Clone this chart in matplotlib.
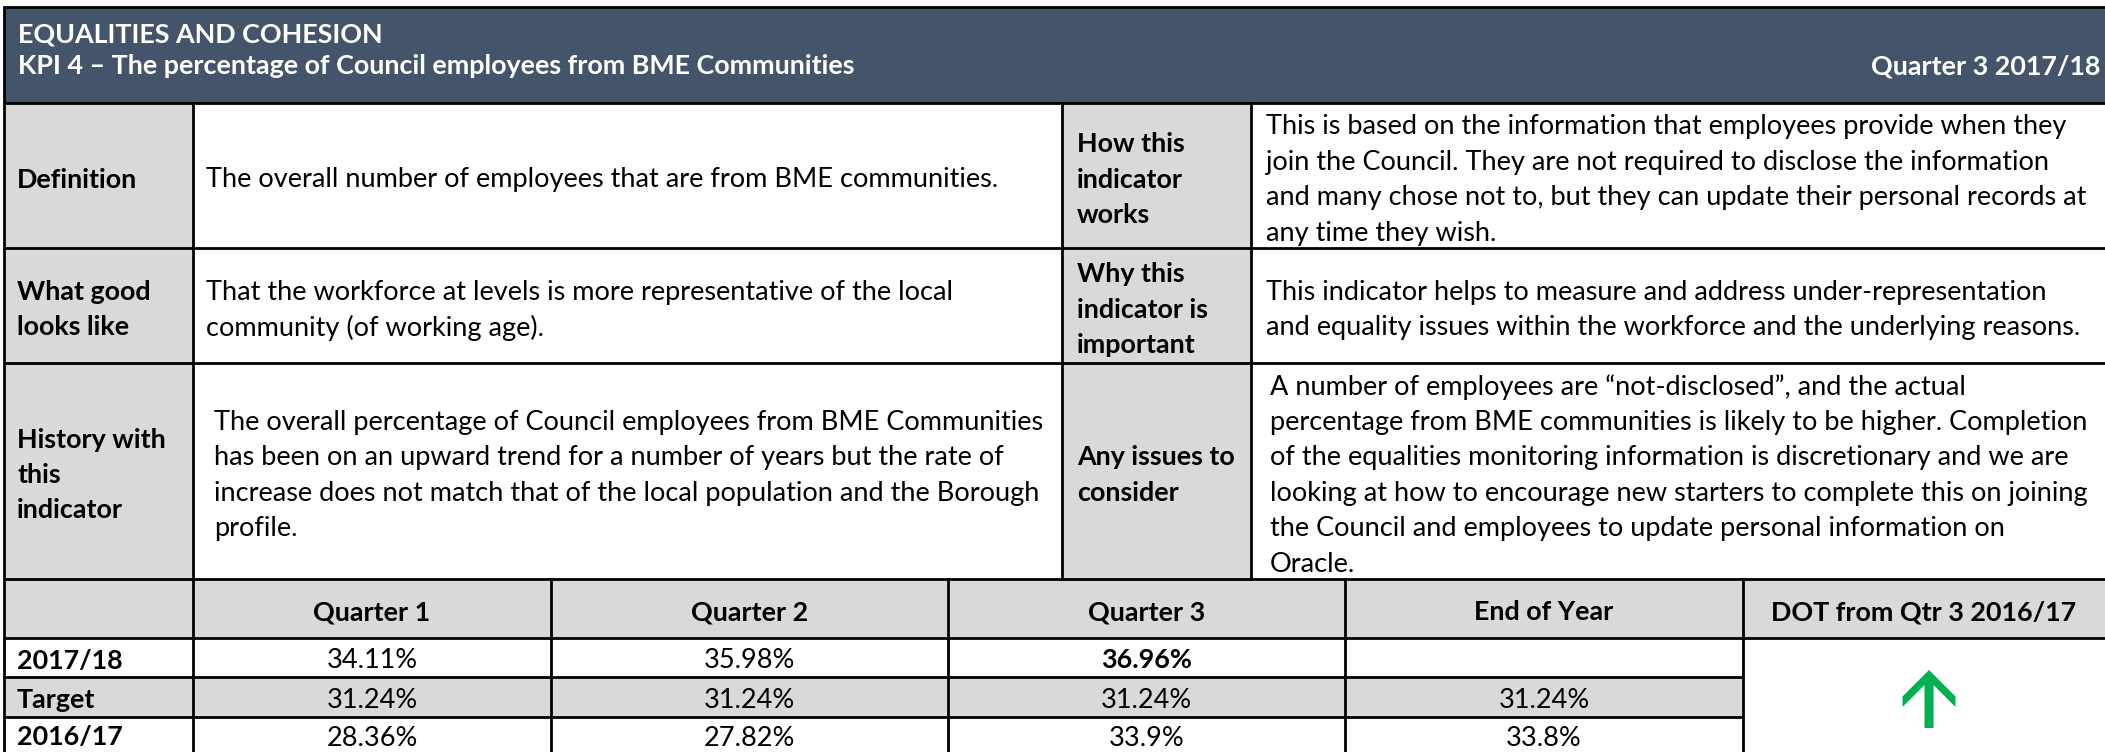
import matplotlib
matplotlib.use("Agg")
import matplotlib.pyplot as plt
from matplotlib.patches import Rectangle, Polygon

FONT = "Lato"
HEAD_BG = "#44546A"
GRAY = "#D9D9D9"
GREEN = "#00B050"

title_section = "EQUALITIES AND COHESION"
title_kpi = "KPI 4 \u2013 The percentage of Council employees from BME Communities"
title_period = "Quarter 3 2017/18"

left_labels = [["Definition"], ["What good", "looks like"], ["History with", "this", "indicator"]]
left_texts = [
    ["The overall number of employees that are from BME communities."],
    ["That the workforce at levels is more representative of the local",
     "community (of working age)."],
    ["The overall percentage of Council employees from BME Communities",
     "has been on an upward trend for a number of years but the rate of",
     "increase does not match that of the local population and the Borough",
     "profile."],
]
right_labels = [["How this", "indicator", "works"],
                ["Why this", "indicator is", "important"],
                ["Any issues to", "consider"]]
right_texts = [
    ["This is based on the information that employees provide when they",
     "join the Council. They are not required to disclose the information",
     "and many chose not to, but they can update their personal records at",
     "any time they wish."],
    ["This indicator helps to measure and address under-representation",
     "and equality issues within the workforce and the underlying reasons."],
    ["A number of employees are \u201cnot-disclosed\u201d, and the actual",
     "percentage from BME communities is likely to be higher. Completion",
     "of the equalities monitoring information is discretionary and we are",
     "looking at how to encourage new starters to complete this on joining",
     "the Council and employees to update personal information on",
     "Oracle."],
]

periods = ["Quarter 1", "Quarter 2", "Quarter 3", "End of Year"]
dot_header = "DOT from Qtr 3 2016/17"
row_labels = ["2017/18", "Target", "2016/17"]
values_2017_18 = ["34.11%", "35.98%", "36.96%", ""]
values_target = ["31.24%", "31.24%", "31.24%", "31.24%"]
values_2016_17 = ["28.36%", "27.82%", "33.9%", "33.8%"]
dot_direction = "up"

# layout in pixels (y grows downwards)
W, H = 2105, 752
X0, XL1, XM, XL2 = 4, 193, 1062, 1251
HEAD_TOP, HEAD_BOT = 7, 103
row_edges = [HEAD_BOT, 248, 363, 579]
tab_cols = [X0, XL1, 551, 948, 1345, 1743, W]
tab_rows = [579, 638, 677, 717, H]
LINE = 35.5
LW = 2.0

fig = plt.figure(figsize=(W / 100, H / 100), dpi=100)
ax = fig.add_axes([0, 0, 1, 1])
ax.set_xlim(0, W)
ax.set_ylim(H, 0)
ax.axis("off")
renderer = fig.canvas.get_renderer()


def fit_size(text, target_px, weight):
    t = ax.text(0, 0, text, fontsize=20, family=FONT, weight=weight)
    w = t.get_window_extent(renderer=renderer).width
    t.remove()
    return 20 * target_px / w


BODY = fit_size(left_texts[2][2], 825, "normal")
BOLD = fit_size(title_kpi, 840, "bold")


def block(x, yc, lines, bold=False, ha="left", color="black"):
    n = len(lines)
    for i, s in enumerate(lines):
        y = yc + (i - (n - 1) / 2) * LINE
        ax.text(x, y, s, ha=ha, va="center_baseline", family=FONT, color=color,
                fontsize=BOLD if bold else BODY, weight="bold" if bold else "normal")


def rect(x1, y1, x2, y2, color):
    ax.add_patch(Rectangle((x1, y1), x2 - x1, y2 - y1, facecolor=color, edgecolor="none"))


# header band
rect(X0, HEAD_TOP, W, HEAD_BOT, HEAD_BG)
ax.text(18, 32, title_section, color="white", family=FONT, weight="bold", fontsize=BOLD, va="center_baseline")
ax.text(18, 64, title_kpi, color="white", family=FONT, weight="bold", fontsize=BOLD, va="center_baseline")
ax.text(2100, 65, title_period, color="white", family=FONT, weight="bold", fontsize=BOLD,
        va="center_baseline", ha="right")

# description section
left_x = [206, 206, 214]
right_x = [1266, 1266, 1270]
for i in range(3):
    y1, y2 = row_edges[i], row_edges[i + 1]
    yc = (y1 + y2) / 2 + 2
    rect(X0, y1, XL1, y2, GRAY)
    rect(XM, y1, XL2, y2, GRAY)
    block(17, yc, left_labels[i], bold=True)
    block(left_x[i], yc, left_texts[i])
    block(1077, yc, right_labels[i], bold=True)
    block(right_x[i], yc, right_texts[i])

# results table
rect(X0, tab_rows[0], W, tab_rows[1], GRAY)
rect(X0, tab_rows[2], tab_cols[5], tab_rows[3], GRAY)
hy = (tab_rows[0] + tab_rows[1]) / 2 + 2
for j, p in enumerate(periods):
    block((tab_cols[j + 1] + tab_cols[j + 2]) / 2, hy, [p], bold=True, ha="center")
block((tab_cols[5] + tab_cols[6]) / 2, hy, [dot_header], bold=True, ha="center")

table_values = [values_2017_18, values_target, values_2016_17]
for r, (lab, vals) in enumerate(zip(row_labels, table_values)):
    yc = (tab_rows[r + 1] + tab_rows[r + 2]) / 2 + 1
    block(17, yc, [lab], bold=True)
    for j, v in enumerate(vals):
        cx = (tab_cols[j + 1] + tab_cols[j + 2]) / 2
        block(cx, yc, [v], bold=(r == 0 and j == 2), ha="center")

# direction of travel arrow
cx, top, bot = 1929, 670, 728
hw, sw, th = 26.5, 4.5, 10.5
if dot_direction == "up":
    pts = [(cx, top), (cx + hw, top + hw), (cx + hw, top + hw + th),
           (cx + sw, top + hw + th - (hw - sw)), (cx + sw, bot), (cx - sw, bot),
           (cx - sw, top + hw + th - (hw - sw)), (cx - hw, top + hw + th), (cx - hw, top + hw)]
    ax.add_patch(Polygon(pts, closed=True, facecolor=GREEN, edgecolor="none"))

# grid lines
for y in [HEAD_TOP, HEAD_BOT] + row_edges[1:] + [tab_rows[1]]:
    ax.plot([X0, W], [y, y], color="black", lw=LW, solid_capstyle="butt")
for y in tab_rows[2:4]:
    ax.plot([X0, tab_cols[5]], [y, y], color="black", lw=LW, solid_capstyle="butt")
ax.plot([X0, X0], [HEAD_TOP, H], color="black", lw=LW)
ax.plot([XL1, XL1], [HEAD_BOT, H], color="black", lw=LW)
for x in (XM, XL2):
    ax.plot([x, x], [HEAD_BOT, row_edges[-1]], color="black", lw=LW)
for x in tab_cols[2:6]:
    ax.plot([x, x], [tab_rows[0], H], color="black", lw=LW)

fig.savefig("out.png", dpi=100)
plt.close(fig)
